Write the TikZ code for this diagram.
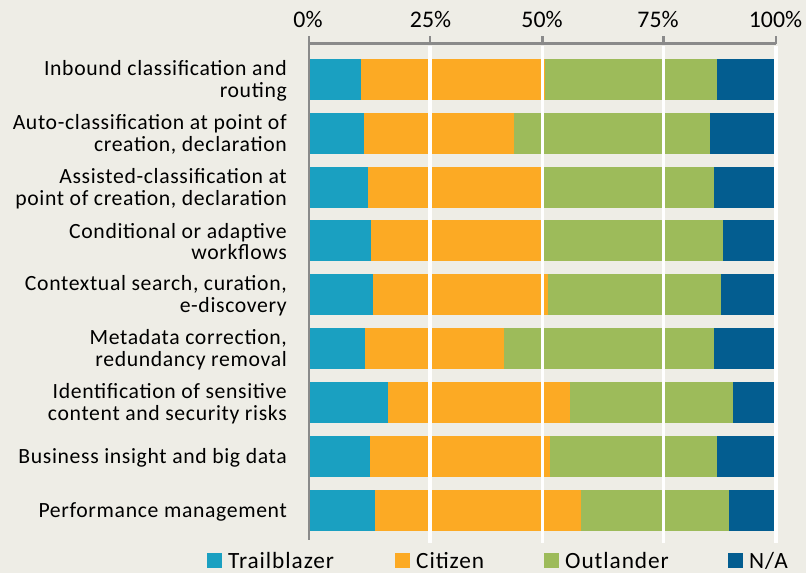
\documentclass[tikz,border=0pt]{standalone}
\usepackage{fontspec}
\setmainfont{Carlito}
\newfontfamily\catfont[LetterSpace=3.0]{Carlito}
\newfontfamily\legfont[LetterSpace=4.0]{Carlito}
\definecolor{bg}{RGB}{238,237,230}
\definecolor{trail}{RGB}{26,160,193}
\definecolor{citi}{RGB}{252,170,36}
\definecolor{outl}{RGB}{157,187,90}
\definecolor{na}{RGB}{3,93,144}
\definecolor{axisgray}{RGB}{138,138,138}
\tikzset{
  cat/.style={anchor=east, align=right, inner sep=0pt, font=\catfont\fontsize{21.7}{21.7}\selectfont},
  tick/.style={anchor=base, inner sep=0pt, font=\fontsize{23.8}{26}\selectfont},
  legtext/.style={anchor=base west, inner sep=0pt, font=\legfont\fontsize{23.3}{24}\selectfont},
  legbox/.style={draw=none, inner sep=0pt, minimum size=14.5pt, anchor=south west},
  grid/.style={white, line width=3.5pt},
  axis/.style={axisgray, line width=2.5pt}
}
\begin{document}
\begin{tikzpicture}[x=1pt,y=-1pt]
\fill[bg] (0,0) rectangle (806,573);
\useasboundingbox (0,0) rectangle (806,573);
% bars
\foreach \top/\a/\b/\c in {59/361/545/717, 113/364/514/710, 167/368/542/714, 220/371/541/723, 274/373/548/721, 328/365/504/714, 382/388/570/733, 436/370/550/717, 490/375/581/729}{
  \fill[trail] (310,\top) rectangle (\a,\top+41);
  \fill[citi] (\a,\top) rectangle (\b,\top+41);
  \fill[outl] (\b,\top) rectangle (\c,\top+41);
  \fill[na] (\c,\top) rectangle (774,\top+41);
}
% gridlines
\foreach \gx in {430,542.7,663.3,776}{
  \draw[grid] (\gx,45.5) -- (\gx,543);
}
% axes
\draw[axis] (309,43.7) -- (776,43.7);
\draw[axis] (309,36) -- (309,540);
\foreach \gx in {430,542.7,663.3,776}{
  \draw[axis] (\gx,36) -- (\gx,44);
}
% tick labels
\node[tick] (t0) at (308,27) {0\%};
\node[tick] (t25) at (430.5,27) {25\%};
\node[tick] (t50) at (542,27) {50\%};
\node[tick] (t75) at (658,27) {75\%};
\node[tick] (t100) at (775.5,27) {100\%};
% category labels
\node[cat] (c1) at (287,80.5) {Inbound classification and\\routing};
\node[cat] (c2) at (287,134.5) {Auto-classification at point of\\creation, declaration};
\node[cat] (c3) at (287,188.5) {Assisted-classification at\\point of creation, declaration};
\node[cat] (c4) at (287,241.5) {Conditional or adaptive\\workflows};
\node[cat] (c5) at (287,295.5) {Contextual search, curation,\\e-discovery};
\node[cat] (c6) at (287,349.5) {Metadata correction,\\redundancy removal};
\node[cat] (c7) at (287,403.5) {Identification of sensitive\\content and security risks};
\node[cat] (c8) at (287,457.5) {Business insight and big data};
\node[cat] (c9) at (287,511.5) {Performance management};
% legend
\node[legbox, fill=trail] (k1) at (207,568) {};
\node[legtext] (l1) at (228,568) {Trailblazer};
\node[legbox, fill=citi] (k2) at (395,568) {};
\node[legtext] (l2) at (416,568) {Citizen};
\node[legbox, fill=outl] (k3) at (544,568) {};
\node[legtext] (l3) at (565,568) {Outlander};
\node[legbox, fill=na] (k4) at (728,568) {};
\node[legtext] (l4) at (749,568) {N/A};
\end{tikzpicture}
\end{document}
